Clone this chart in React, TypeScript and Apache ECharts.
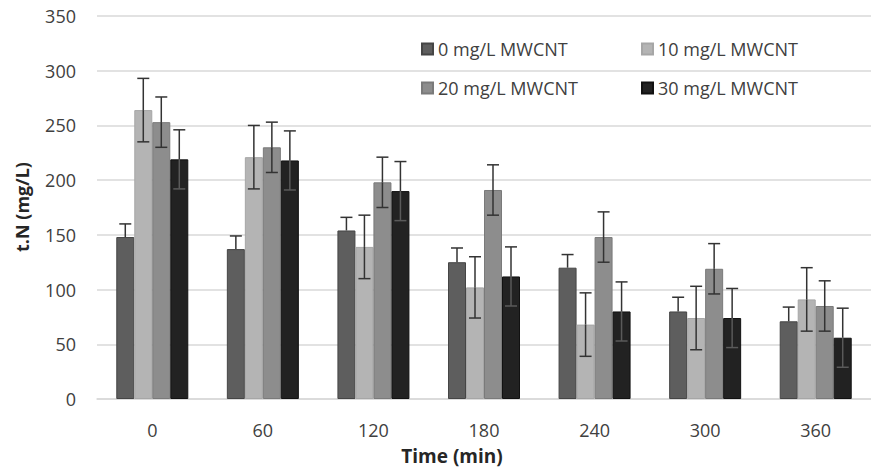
import React, { useEffect, useRef } from "react";
import * as echarts from "echarts";

const categories = ["0", "60", "120", "180", "240", "300", "360"];
const seriesNames = ["0 mg/L MWCNT", "10 mg/L MWCNT", "20 mg/L MWCNT", "30 mg/L MWCNT"];
const values0 = [148, 137, 154, 125, 120, 80, 71];
const values10 = [264, 221, 139, 102, 68, 74, 91];
const values20 = [253, 230, 198, 191, 148, 119, 85];
const values30 = [219, 218, 190, 112, 80, 74, 56];
const err0 = [12, 12, 12, 13, 12, 13, 13];
const err10 = [29, 29, 29, 28, 29, 29, 29];
const err20 = [23, 23, 23, 23, 23, 23, 23];
const err30 = [27, 27, 27, 27, 27, 27, 27];
const yTicks = { min: 0, max: 350, interval: 50 };

const colors = ["#5e5e5e", "#b4b4b4", "#8d8d8d", "#222222"];
const borders = ["#454545", "#a6a6a6", "#7a7a7a", "#111111"];
const BAR_W = 18;

export default function App() {
  const ref = useRef<HTMLDivElement>(null);
  useEffect(() => {
    if (!ref.current) return;
    const chart = echarts.init(ref.current, null, { renderer: "svg" });
    const allValues = [values0, values10, values20, values30];
    const allErr = [err0, err10, err20, err30];

    const barSeries = allValues.map((vals, i) => ({
      name: seriesNames[i],
      type: "bar",
      data: vals,
      barWidth: BAR_W,
      barGap: "0%",
      itemStyle: { color: colors[i], borderColor: borders[i], borderWidth: 1 },
      z: 2,
    }));

    const errSeries = allValues.map((vals, i) => ({
      type: "custom",
      name: seriesNames[i] + " err",
      data: vals.map((v, j) => [j, v - allErr[i][j], v + allErr[i][j], v]),
      z: 5,
      silent: true,
      renderItem: (params: any, api: any) => {
        const xi = api.value(0);
        const lo = api.coord([xi, api.value(1)]);
        const hi = api.coord([xi, api.value(2)]);
        const mid = api.coord([xi, api.value(3)]);
        const off = (i - 1.5) * BAR_W;
        const x = lo[0] + off;
        const cap = 6;
        const upper = { stroke: "#333333", lineWidth: 1.5 };
        const lower = { stroke: i === 3 ? "#5a5a5a" : "#333333", lineWidth: 1.5 };
        const children: any[] = [
          { type: "line", shape: { x1: x, y1: mid[1], x2: x, y2: hi[1] }, style: upper },
          { type: "line", shape: { x1: x - cap, y1: hi[1], x2: x + cap, y2: hi[1] }, style: upper },
        ];
        if (i !== 0) {
          children.push(
            { type: "line", shape: { x1: x, y1: lo[1], x2: x, y2: mid[1] }, style: lower },
            { type: "line", shape: { x1: x - cap, y1: lo[1], x2: x + cap, y2: lo[1] }, style: lower }
          );
        }
        return { type: "group", children };
      },
    }));

    const font = "'Open Sans', sans-serif";
    chart.setOption({
      animation: false,
      backgroundColor: "#ffffff",
      grid: { left: 97, top: 16, bottom: 69, width: 782, containLabel: false },
      legend: [
        {
          data: [seriesNames[0], seriesNames[2]],
          orient: "vertical",
          left: 416,
          top: 35,
          itemWidth: 11,
          itemHeight: 11,
          itemGap: 21,
          icon: "rect",
          textStyle: { fontFamily: font, fontSize: 18, color: "#404040" },
        },
        {
          data: [seriesNames[1], seriesNames[3]],
          orient: "vertical",
          left: 636,
          top: 35,
          itemWidth: 11,
          itemHeight: 11,
          itemGap: 21,
          icon: "rect",
          textStyle: { fontFamily: font, fontSize: 18, color: "#404040" },
        },
      ],
      xAxis: {
        type: "category",
        data: categories,
        axisTick: { show: false },
        axisLine: { lineStyle: { color: "#d9d9d9", width: 1.5 } },
        axisLabel: { fontFamily: font, fontSize: 18, color: "#404040", margin: 22 },
      },
      yAxis: {
        type: "value",
        min: yTicks.min,
        max: yTicks.max,
        interval: yTicks.interval,
        axisLine: { show: false },
        axisTick: { show: false },
        splitLine: { lineStyle: { color: "#d9d9d9", width: 1.5 } },
        axisLabel: { fontFamily: font, fontSize: 18, color: "#404040", margin: 21 },
      },
      graphic: [
        {
          type: "text",
          x: 22,
          y: 207,
          rotation: Math.PI / 2,
          style: {
            text: "t.N (mg/L)",
            fontFamily: font,
            fontSize: 18,
            fontWeight: "bold",
            fill: "#262626",
            align: "center",
            verticalAlign: "middle",
          },
        },
        {
          type: "text",
          x: 452,
          y: 456,
          style: {
            text: "Time (min)",
            fontFamily: font,
            fontSize: 19,
            fontWeight: "bold",
            fill: "#262626",
            align: "center",
            verticalAlign: "middle",
          },
        },
      ],
      series: [...barSeries, ...errSeries],
    });
    return () => chart.dispose();
  }, []);
  return <div ref={ref} style={{ width: 871, height: 468, position: "absolute", left: 0, top: 0 }} />;
}
